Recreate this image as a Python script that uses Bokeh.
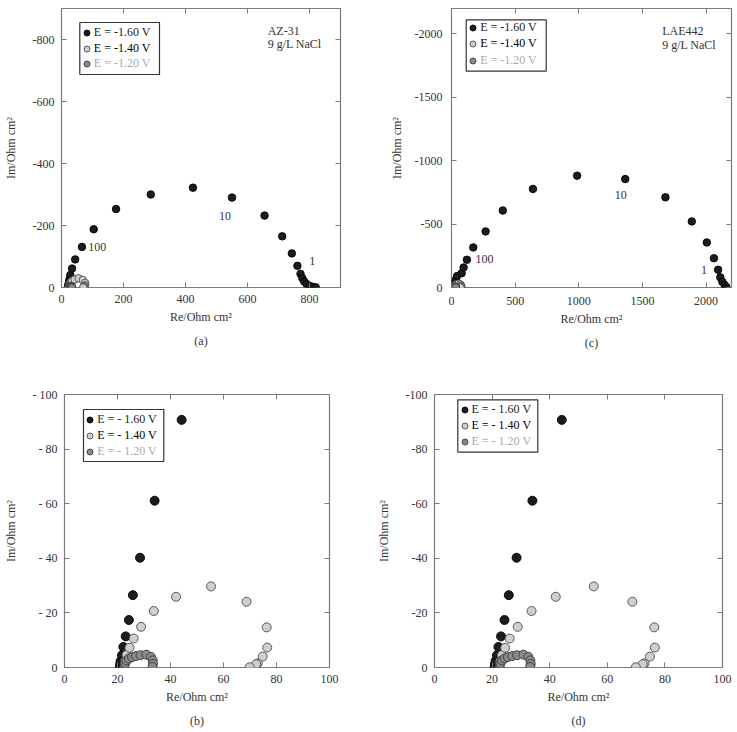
from bokeh.plotting import figure
from bokeh.models import (Range1d, FixedTicker, LinearAxis, Legend, LegendItem,
                          Label, BoxAnnotation, Title)
from bokeh.layouts import column, row
from bokeh.embed import file_html
from bokeh.resources import INLINE

FONT = "Liberation Serif"
TXT = "#333333"
FRAME = "#7a7a7a"

# Impedance data, Re and Im in Ohm cm2 (Im plotted as negative values)
# high-frequency part of the E = -1.60 V spectrum (common to all plots)
re_160_low = [20.9, 21.0, 21.2, 21.7, 22.2, 23.1, 24.3, 25.8, 28.5, 34.0, 44.2]
im_160_low = [-0.2, -1.2, -2.4, -4.5, -7.5, -11.4, -17.4, -26.5, -40.2, -61.1, -90.7]

# rest of the E = -1.60 V spectrum, AZ-31
re_az31_160 = [66, 104, 176, 288, 424, 550, 655, 712, 743, 761, 771, 777, 783, 791, 801, 811, 820]
im_az31_160 = [-131, -188, -253, -300, -322, -290, -232, -165, -110, -70, -44, -30, -19, -11, -5, -2, -0.5]

# rest of the E = -1.60 V spectrum, LAE442
re_lae_160 = [80, 95, 121, 171, 268, 403, 640, 987, 1365, 1681, 1888, 2006, 2062, 2095, 2112, 2128, 2146, 2160]
im_lae_160 = [-113, -158, -219, -316, -442, -607, -777, -882, -855, -711, -521, -355, -231, -140, -80, -45, -20, -3]

# E = -1.40 V
re_140 = [22.8, 23.4, 24.5, 26.1, 28.9, 33.7, 42.1, 55.3, 68.7, 76.3, 76.5, 74.8, 72.9, 72.3, 69.9]
im_140 = [-2.2, -4.6, -7.2, -10.6, -14.9, -20.7, -25.9, -29.7, -24.1, -14.7, -7.3, -4.0, -1.5, -1.2, -0.1]

# E = -1.20 V
re_120 = [22.6, 22.9, 23.4, 24.3, 25.5, 27.0, 28.7, 30.9, 32.6, 33.3, 33.4, 33.2]
im_120 = [-0.2, -1.5, -2.6, -3.3, -3.8, -4.2, -4.5, -4.7, -3.9, -2.6, -1.3, -0.2]

# axis ticks
ticks_az31_re = [0, 200, 400, 600, 800]
ticks_az31_im = [0, -200, -400, -600, -800]
ticks_lae_re = [0, 500, 1000, 1500, 2000]
ticks_lae_im = [0, -500, -1000, -1500, -2000]
ticks_zoom_re = [0, 20, 40, 60, 80, 100]
ticks_zoom_im = [0, -20, -40, -60, -80, -100]

legend_labels_a = ["E = -1.60 V", "E = -1.40 V", "E = -1.20 V"]
legend_labels_b = ["E = - 1.60 V", "E = - 1.40 V", "E = - 1.20 V"]
legend_text_colors = ["#222222", "#000000", "#aaaaaa"]

marker_fill = ["#1c1c1c", "#cfcfcf", "#8a8a8a"]
marker_line = ["#000000", "#4a4a4a", "#3a3a3a"]


def hyphen_labels(ticks, sep=""):
    # plain hyphen instead of the typographic minus sign
    return {t: ("-" + sep + str(abs(t))) if t < 0 else str(t) for t in ticks}


def make_panel(width, height, borders, xr, yr, xticks, yticks, caption,
               series, msize, legend_labels, legend_pos, box, ysep="",
               ylab_standoff=12, tick_standoff=7):
    left, right, top, bottom = borders
    p = figure(width=width, height=height, output_backend="svg", toolbar_location=None,
               x_range=Range1d(*xr), y_range=Range1d(*yr),
               min_border_left=left, min_border_right=right,
               min_border_top=top, min_border_bottom=bottom)
    p.grid.visible = False
    p.outline_line_color = FRAME
    p.outline_line_width = 1.2
    p.background_fill_color = "white"
    p.border_fill_color = "white"

    for ax, ticks in ((p.xaxis[0], xticks), (p.yaxis[0], yticks)):
        ax.ticker = FixedTicker(ticks=ticks)
        ax.major_tick_in = 5
        ax.major_tick_out = 0
        ax.minor_tick_line_color = None
        ax.major_tick_line_color = FRAME
        ax.axis_line_color = None
        ax.major_label_text_font = FONT
        ax.major_label_text_font_size = "12px"
        ax.major_label_text_color = TXT
        ax.major_label_standoff = tick_standoff
        ax.axis_label_text_font = FONT
        ax.axis_label_text_font_size = "12px"
        ax.axis_label_text_font_style = "normal"
        ax.axis_label_text_color = TXT
    p.xaxis[0].axis_label = "Re/Ohm cm²"
    p.xaxis[0].axis_label_standoff = 4
    p.yaxis[0].axis_label = "Im/Ohm cm²"
    p.yaxis[0].axis_label_standoff = ylab_standoff
    p.yaxis[0].major_label_overrides = hyphen_labels(yticks, ysep)

    # tick marks on the opposite sides of the frame, without labels
    for side, ticks in (("right", yticks), ("above", xticks)):
        ax = LinearAxis(ticker=FixedTicker(ticks=ticks), major_tick_in=5, major_tick_out=0,
                        minor_tick_line_color=None, major_tick_line_color=FRAME,
                        axis_line_color=None, major_label_text_color=None,
                        major_label_overrides={t: "" for t in ticks},
                        major_label_standoff=0)
        p.add_layout(ax, side)

    p.add_layout(Title(text=caption, align="center", text_font=FONT, text_font_size="12px",
                       text_font_style="normal", text_color=TXT, standoff=10), "below")

    renderers = []
    for (xs, ys), fc, lc in zip(series, marker_fill, marker_line):
        r = p.scatter(xs, ys, size=msize, fill_color=fc, line_color=lc, line_width=0.9)
        renderers.append(r)

    vx, vys = legend_pos
    for r, lab, col, vy in zip(renderers, legend_labels, legend_text_colors, vys):
        lg = Legend(items=[LegendItem(label=lab, renderers=[r])], location=(vx, vy),
                    padding=0, margin=0, spacing=0, border_line_color=None,
                    background_fill_alpha=0, glyph_width=15, glyph_height=15,
                    label_height=15, label_standoff=0, label_text_font=FONT,
                    label_text_font_size="12px", label_text_color=col)
        p.add_layout(lg, "center")
    bl, br, bt, bb = box
    p.add_layout(BoxAnnotation(left=bl, right=br, top=bt, bottom=bb,
                               left_units="screen", right_units="screen",
                               top_units="screen", bottom_units="screen",
                               fill_alpha=0, line_color="#333333", line_width=1.2,
                               line_alpha=1))
    return p


def add_text(p, x, y, text, align="left"):
    p.add_layout(Label(x=x, y=y, text=text, text_font=FONT, text_font_size="12px",
                       text_color=TXT, text_align=align, text_baseline="middle"))


low = (re_160_low, im_160_low)
s140 = (re_140, im_140)
s120 = (re_120, im_120)

pa = make_panel(370, 370, (59, 30, 8, 82), (0, 900), (0, -900),
                ticks_az31_re, ticks_az31_im, "(a)",
                [(re_160_low + re_az31_160, im_160_low + im_az31_160), s140, s120], 7.5,
                legend_labels_a, (17.8, [247.2, 231.5, 216.2]), (18.3, 98, 265, 213))
add_text(pa, 665, -829, "AZ-31")
add_text(pa, 665, -784, "9 g/L NaCl")
add_text(pa, 86, -130, "100")
add_text(pa, 508, -230, "10")
add_text(pa, 799, -87, "1")

pc = make_panel(367, 370, (81, 6, 7, 83), (0, 2200), (0, -2200),
                ticks_lae_re, ticks_lae_im, "(c)",
                [(re_160_low + re_lae_160, im_160_low + im_lae_160), s140, s120], 7.5,
                legend_labels_a, (14.2, [251.8, 236.2, 219.5]), (14.7, 94.7, 267.7, 216.3),
                ylab_standoff=8, tick_standoff=9)
add_text(pc, 1655, -2025, "LAE442")
add_text(pc, 1655, -1915, "9 g/L NaCl")
add_text(pc, 189, -225, "100")
add_text(pc, 1283, -731, "10")
add_text(pc, 1960, -139, "1")

pb = make_panel(370, 362, (54, 41, 24, 65), (0, 100), (0, -100),
                ticks_zoom_re, ticks_zoom_im, "(b)",
                [low, s140, s120], 9, legend_labels_b,
                (18.2, [240.2, 224.2, 208.5]), (19, 99.3, 258, 206), ysep=" ")

pd_ = make_panel(367, 362, (64, 15, 10, 65), (0, 100), (0, -100),
                 ticks_zoom_re, ticks_zoom_im, "(d)",
                 [low, s140, s120], 9, legend_labels_b,
                 (22.5, [250.5, 234.5, 218.5]), (23.3, 103.3, 267.7, 215.3))

layout = column(row(pa, pc), row(pb, pd_))
open("out.html", "w").write(file_html(layout, INLINE))
